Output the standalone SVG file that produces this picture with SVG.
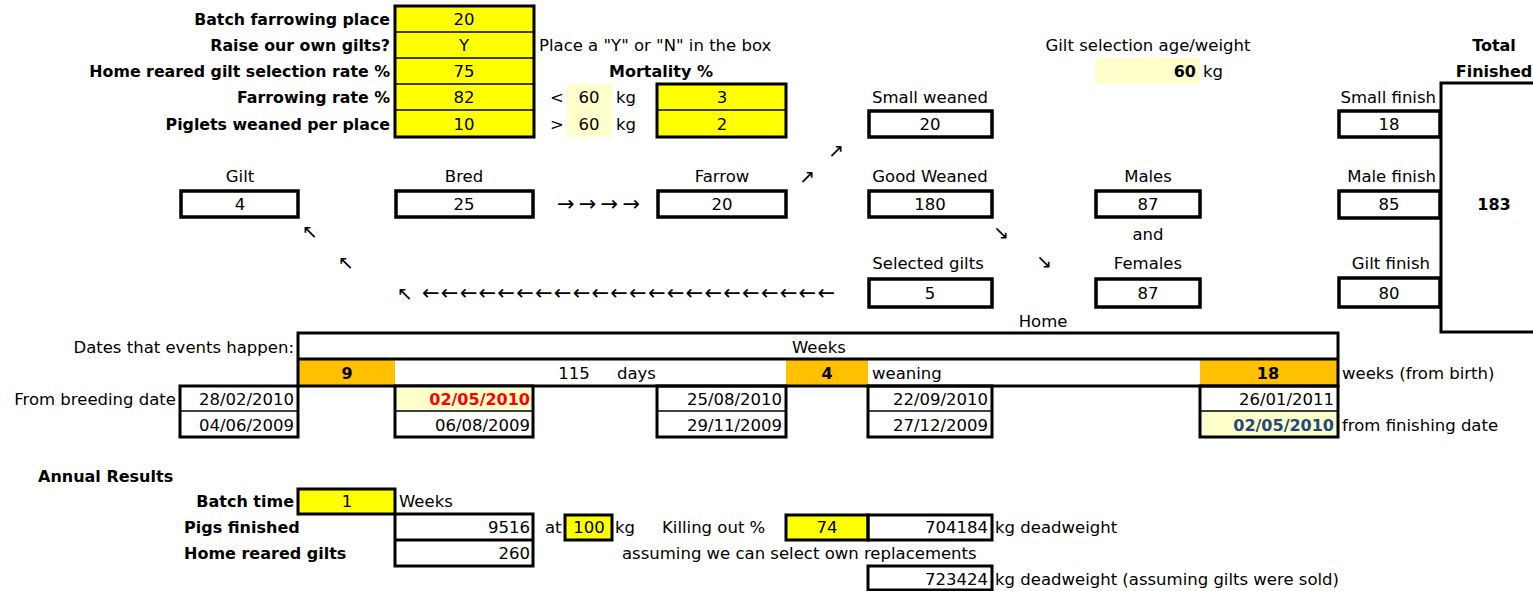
<svg xmlns="http://www.w3.org/2000/svg" width="1533" height="591" viewBox="0 0 1533 591">
<style>
text{font-family:"DejaVu Sans","Verdana",sans-serif;font-size:16.5px;fill:#000}
.b{font-weight:bold;font-size:16px}
.tb{font-size:15.8px}
.m{text-anchor:middle}
.r{text-anchor:end}
.box{fill:#fff;stroke:#000;stroke-width:3.5}
.yb{fill:#FFFF00;stroke:#000;stroke-width:3}
.tk{fill:none;stroke:#000;stroke-width:3}
.tn{fill:none;stroke:#000;stroke-width:1.5}
.or{fill:#FFC000}
.py{fill:#FFFFCC}
.arr{font-size:19px}
.la{font-size:21px}
</style>
<rect width="1533" height="591" fill="#fff"/>

<g id="inputs">
<text class="b tb r" x="390" y="25">Batch farrowing place</text>
<text class="b tb r" x="390" y="51">Raise our own gilts?</text>
<text class="b tb r" x="390" y="77">Home reared gilt selection rate %</text>
<text class="b tb r" x="390" y="103">Farrowing rate %</text>
<text class="b tb r" x="390" y="130">Piglets weaned per place</text>
<rect class="yb" x="395" y="6" width="139" height="131"/>
<line class="tn" x1="395" y1="32" x2="534" y2="32" stroke-width="2"/>
<line class="tn" x1="395" y1="58" x2="534" y2="58" stroke-width="2"/>
<line class="tn" x1="395" y1="84" x2="534" y2="84" stroke-width="2"/>
<line class="tn" x1="395" y1="110" x2="534" y2="110" stroke-width="2"/>
<text class="m" x="464" y="25">20</text>
<text class="m" x="464" y="51">Y</text>
<text class="m" x="464" y="77">75</text>
<text class="m" x="464" y="103">82</text>
<text class="m" x="464" y="130">10</text>
<text x="539" y="51">Place a "Y" or "N" in the box</text>
</g>

<g id="mortality">
<text class="b m" x="661" y="77">Mortality %</text>
<rect class="py" x="567" y="84" width="45" height="53"/>
<text x="550" y="103">&lt;</text>
<text class="m" x="589" y="103">60</text>
<text x="616" y="103">kg</text>
<text x="550" y="130">&gt;</text>
<text class="m" x="589" y="130">60</text>
<text x="616" y="130">kg</text>
<rect class="yb" x="657" y="84" width="129" height="53"/>
<line class="tn" x1="657" y1="110" x2="786" y2="110" stroke-width="2"/>
<text class="m" x="722" y="103">3</text>
<text class="m" x="722" y="130">2</text>
</g>

<g id="gilt-selection">
<text class="m" x="1148" y="51">Gilt selection age/weight</text>
<rect class="py" x="1095" y="58" width="105" height="26"/>
<text class="b r" x="1196" y="77">60</text>
<text x="1203" y="77">kg</text>
</g>

<g id="node-gilt">
<text class="m" x="240" y="182">Gilt</text>
<rect class="box" x="181" y="191" width="117" height="26"/>
<text class="m" x="240" y="210">4</text>
</g>
<g id="node-bred">
<text class="m" x="464" y="182">Bred</text>
<rect class="box" x="396" y="191" width="137" height="26"/>
<text class="m" x="464" y="210">25</text>
</g>
<g id="node-farrow">
<text class="m" x="722" y="182">Farrow</text>
<rect class="box" x="658" y="191" width="128" height="26"/>
<text class="m" x="722" y="210">20</text>
</g>
<g id="node-small-weaned">
<text class="m" x="930" y="103">Small weaned</text>
<rect class="box" x="869" y="111" width="123" height="26"/>
<text class="m" x="930" y="130">20</text>
</g>
<g id="node-good-weaned">
<text class="m" x="930" y="182">Good Weaned</text>
<rect class="box" x="869" y="191" width="123" height="26"/>
<text class="m" x="930" y="210">180</text>
</g>
<g id="node-selected-gilts">
<text class="m" x="928" y="269">Selected gilts</text>
<rect class="box" x="869" y="279" width="123" height="28"/>
<text class="m" x="930" y="299">5</text>
</g>
<g id="node-males">
<text class="m" x="1148" y="182">Males</text>
<rect class="box" x="1096" y="191" width="104" height="26"/>
<text class="m" x="1148" y="210">87</text>
</g>
<text class="m" x="1148" y="240">and</text>
<g id="node-females">
<text class="m" x="1148" y="269">Females</text>
<rect class="box" x="1096" y="279" width="104" height="28"/>
<text class="m" x="1148" y="299">87</text>
</g>
<text class="m" x="1043" y="327">Home</text>
<g id="node-small-finish">
<text class="r" x="1436" y="103">Small finish</text>
<rect class="box" x="1339" y="111" width="101" height="26"/>
<text class="m" x="1389" y="130">18</text>
</g>
<g id="node-male-finish">
<text class="r" x="1436" y="182">Male finish</text>
<rect class="box" x="1339" y="191" width="101" height="27"/>
<text class="m" x="1389" y="210">85</text>
</g>
<g id="node-gilt-finish">
<text class="r" x="1430" y="269">Gilt finish</text>
<rect class="box" x="1339" y="278" width="101" height="29"/>
<text class="m" x="1389" y="299">80</text>
</g>
<g id="node-total">
<text class="b m" x="1494" y="51">Total</text>
<text class="b m" x="1494" y="77">Finished</text>
<rect class="tk" x="1441" y="83" width="100" height="249"/>
<text class="b m" x="1494" y="210">183</text>
</g>

<g id="connectors">
<text class="la" x="557" y="211" textLength="83" lengthAdjust="spacing">→→→→</text>
<text class="arr" x="828" y="157">↗</text>
<text class="arr" x="799" y="183">↗</text>
<text class="arr" x="993" y="239">↘</text>
<text class="arr" x="1036" y="268">↘</text>
<text class="arr" x="302" y="238">↖</text>
<text class="arr" x="338" y="269">↖</text>
<text class="arr" x="397" y="300">↖</text>
<text class="la" x="422" y="300" textLength="413" lengthAdjust="spacing">←←←←←←←←←←←←←←←←←←←←←←</text>
</g>

<g id="timeline">
<text class="r" x="294" y="353">Dates that events happen:</text>
<rect class="or" x="298" y="359" width="97" height="27"/>
<rect class="or" x="786" y="359" width="82" height="27"/>
<rect class="or" x="1200" y="359" width="138" height="27"/>
<rect class="tk" x="298" y="333" width="1040" height="53"/>
<line class="tk" x1="298" y1="359" x2="1338" y2="359"/>
<text x="792" y="353">Weeks</text>
<text class="b m" x="347" y="379">9</text>
<text class="m" x="574" y="379">115</text>
<text x="617" y="379">days</text>
<text class="b m" x="827" y="379">4</text>
<text x="872" y="379">weaning</text>
<text class="b m" x="1268" y="379">18</text>
<text x="1342" y="379">weeks (from birth)</text>
</g>

<g id="dates">
<text class="r" x="176" y="405">From breeding date</text>
<rect class="py" x="395" y="386" width="138" height="25"/>
<rect class="py" x="1200" y="411" width="138" height="26"/>
<rect class="tk" x="180" y="386" width="118" height="51"/>
<rect class="tk" x="395" y="386" width="138" height="51"/>
<rect class="tk" x="657" y="386" width="129" height="51"/>
<rect class="tk" x="868" y="386" width="124" height="51"/>
<rect class="tk" x="1200" y="386" width="138" height="51"/>
<line class="tn" x1="180" y1="411" x2="298" y2="411"/>
<line class="tn" x1="395" y1="411" x2="533" y2="411"/>
<line class="tn" x1="657" y1="411" x2="786" y2="411"/>
<line class="tn" x1="868" y1="411" x2="992" y2="411"/>
<line class="tn" x1="1200" y1="411" x2="1338" y2="411"/>
<text class="r" x="294" y="405">28/02/2010</text>
<text class="b r" x="530" y="405" style="fill:#FF0000">02/05/2010</text>
<text class="r" x="782" y="405">25/08/2010</text>
<text class="r" x="988" y="405">22/09/2010</text>
<text class="r" x="1334" y="405">26/01/2011</text>
<text class="r" x="294" y="431">04/06/2009</text>
<text class="r" x="530" y="431">06/08/2009</text>
<text class="r" x="782" y="431">29/11/2009</text>
<text class="r" x="988" y="431">27/12/2009</text>
<text class="b r" x="1334" y="431" style="fill:#1F497D">02/05/2010</text>
<text x="1342" y="431">from finishing date</text>
</g>

<g id="annual">
<text class="b" x="38" y="482">Annual Results</text>
<text class="b r" x="294" y="507">Batch time</text>
<rect class="yb" x="298" y="489" width="97" height="25"/>
<text class="m" x="347" y="507">1</text>
<text x="399" y="507">Weeks</text>
<text class="b" x="184" y="533">Pigs finished</text>
<text class="b" x="184" y="559">Home reared gilts</text>
<rect class="tk" x="395" y="514" width="138" height="52"/>
<line class="tk" x1="395" y1="540" x2="533" y2="540"/>
<text class="r" x="530" y="533">9516</text>
<text class="r" x="530" y="559">260</text>
<text x="545" y="533">at</text>
<rect class="yb" x="565" y="515" width="47" height="25"/>
<text class="m" x="589" y="533">100</text>
<text x="615" y="533">kg</text>
<text x="662" y="533">Killing out %</text>
<rect class="yb" x="786" y="515" width="82" height="25"/>
<text class="m" x="827" y="533">74</text>
<rect class="tk" x="868" y="515" width="124" height="25"/>
<text class="r" x="988" y="533">704184</text>
<text x="995" y="533">kg deadweight</text>
<text x="622" y="559">assuming we can select own replacements</text>
<rect class="tk" x="868" y="566" width="124" height="24"/>
<text class="r" x="988" y="585">723424</text>
<text x="995" y="585">kg deadweight (assuming gilts were sold)</text>
</g>
</svg>
